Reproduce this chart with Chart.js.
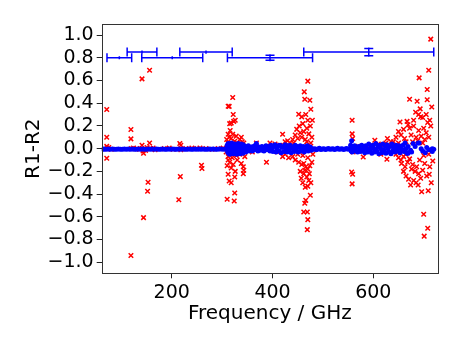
<!DOCTYPE html>
<html><head><meta charset="utf-8">
<script src="https://cdn.jsdelivr.net/npm/chart.js@4"></script>
<style>html,body{margin:0;padding:0;background:#fff}</style>
</head><body>
<canvas id="c" width="463" height="347" style="display:block;width:463px;height:347px"></canvas>
<script>
// ---- data ----
const xTicks = [200, 400, 600];
const yTicks = [-1.0, -0.8, -0.6, -0.4, -0.2, 0.0, 0.2, 0.4, 0.6, 0.8, 1.0];
const xRange = [61, 728.4];
const yRange = [-1.097, 1.097];

// red crosses: [frequency GHz, R1-R2]
const mismatchPoints = [
[71,0.345],[71,0.10],[71,0.02],[72,0.0],[71,-0.085],[75,0.01],[80,-0.005],
[119,0.168],[119,0.086],[120,0.0],[119,-0.94],[124,0.005],
[141,0.614],[156,0.69],[141,0.03],[144,-0.04],[143,-0.02],[156,0.05],[153,-0.296],[152,-0.375],[144,-0.607],[148,-0.015],[151,0.01],[158,0.0],[163,0.005],[167,-0.01],[136,-0.005],[131,0.0],
[185,0.0],[195,0.005],[203,-0.005],[214,-0.45],[216,0.045],[218,0.03],[218,-0.01],[217,-0.246],[228,0.0],[240,0.005],[250,0.0],[259,-0.146],[260,-0.175],[256,0.005],[268,0.0],[280,-0.005],[292,0.0],[302,0.005],
[321,0.45],[312,0.373],[314,0.372],[322,0.30],[315,0.22],[318,0.225],[326,0.25],[323,0.24],[312,0.127],[321,0.127],[316,0.16],[328,0.11],[335,0.08],[340,0.06],[318,0.09],[325,0.065],[330,0.05],[312,0.05],[309,0.08],[338,0.1],[314,0.1],[333,0.04],[343,0.05],
[312,-0.225],[325,-0.25],[314,-0.285],[318,-0.30],[325,-0.39],[310,-0.446],[324,-0.46],[342,-0.16],[343,-0.19],[342,-0.22],[312,-0.1],[315,-0.12],[320,-0.08],[328,-0.06],[335,-0.05],[310,-0.15],[318,-0.17],[322,-0.14],[312,-0.07],[338,-0.13],[330,-0.1],[326,-0.2],[316,-0.05],[308,-0.03],[345,-0.07],
[368,0.05],[360,-0.03],[388,-0.12],[395,0.05],[405,0.04],[410,-0.03],
[470,0.594],[463,0.50],[464,0.435],[474,0.426],[476,0.347],[452,0.303],[466,0.30],[479,0.25],[458,0.28],[470,0.25],[448,0.17],[453,0.2],[460,0.22],[468,0.18],[475,0.2],[445,0.12],[455,0.14],[462,0.15],[472,0.13],[478,0.1],[440,0.08],[450,0.09],[458,0.1],[465,0.08],[430,0.07],[420,0.127],[425,0.06],[435,0.05],[442,0.05],[468,0.06],[476,0.05],[415,0.03],
[420,-0.07],[425,-0.05],[432,-0.08],[440,-0.07],[445,-0.1],[452,-0.12],[458,-0.14],[462,-0.13],[466,-0.16],[470,-0.18],[474,-0.15],[478,-0.12],[455,-0.2],[462,-0.22],[468,-0.25],[472,-0.28],[476,-0.3],[460,-0.3],[465,-0.34],[470,-0.33],[475,-0.41],[466,-0.455],[464,-0.48],[462,-0.557],[469,-0.557],[470,-0.625],[469,-0.713],[450,-0.05],[460,-0.06],[470,-0.08],[480,-0.05],[457,-0.26],[464,-0.19],[473,-0.22],
[558,0.25],[558,0.13],[559,0.09],[557,-0.205],[559,-0.225],[558,-0.31],[558,0.0],[560,-0.03],
[580,-0.073],[603,0.074],[628,0.089],[627,-0.094],[600,0.02],[615,-0.05],[625,0.05],[635,0.06],[620,0.03],[610,0.04],[590,0.01],[570,0.02],
[714,0.964],[710,0.69],[691,0.623],[707,0.52],[672,0.435],[687,0.417],[707,0.43],[716,0.367],[693,0.35],[684,0.32],[698,0.274],[653,0.235],[667,0.24],[669,0.21],[714,0.2],[650,0.15],[660,0.17],[672,0.18],[680,0.2],[690,0.16],[700,0.18],[708,0.23],[712,0.25],[645,0.1],[655,0.12],[662,0.09],[675,0.12],[685,0.1],[695,0.11],[705,0.14],[710,0.1],[640,0.06],[650,0.05],[665,0.06],[678,0.06],[688,0.07],[698,0.05],[702,0.08],[694,0.28],[680,0.25],[690,0.3],[705,0.3],
[718,-0.108],[663,-0.16],[665,-0.24],[674,-0.32],[689,-0.32],[696,-0.38],[709,-0.37],[711,-0.226],[700,-0.578],[708,-0.70],[701,-0.77],[645,-0.05],[650,-0.08],[655,-0.1],[660,-0.07],[668,-0.12],[672,-0.09],[678,-0.14],[683,-0.2],[686,-0.16],[690,-0.22],[694,-0.26],[698,-0.19],[702,-0.13],[706,-0.24],[712,-0.16],[715,-0.3],[660,-0.2],[670,-0.27],[680,-0.28],[685,-0.3],[676,-0.18],[692,-0.1],[700,-0.06],[656,-0.13],[664,-0.05],[640,-0.03],[710,-0.05]
];

// blue dots: [frequency GHz, R1-R2]
const matchPoints = [
[64,-0.005],[66,-0.004],[70,-0.006],[74,-0.003],[78,-0.005],[82,-0.004],[86,-0.006],[90,-0.005],[94,-0.003],[98,-0.005],[102,-0.006],[106,-0.004],[110,-0.005],[114,-0.003],[118,-0.006],[122,-0.004],[126,-0.005],[130,-0.006],[134,-0.004],[138,-0.005],[142,-0.003],[146,-0.006],[150,-0.005],[154,-0.004],[158,-0.005],[162,-0.003],[166,-0.006],[170,-0.004],[174,-0.005],[178,-0.005],[182,-0.004],[186,-0.006],[190,-0.005],[194,-0.003],[198,-0.005],[202,-0.004],[206,-0.006],[210,-0.005],[214,-0.004],[218,-0.005],[222,-0.003],[226,-0.006],[230,-0.005],[234,-0.004],[238,-0.005],[242,-0.006],[246,-0.004],[250,-0.005],[254,-0.003],[258,-0.005],[262,-0.004],[266,-0.006],[270,-0.005],[274,-0.004],[278,-0.005],[282,-0.003],[286,-0.006],[290,-0.005],[294,-0.004],[298,-0.003],[302,-0.006],[306,-0.004],
[308,0.0],[310,0.03],[311,-0.03],[312,0.045],[313,-0.04],[314,0.01],[315,-0.05],[316,0.04],[317,0.0],[318,-0.035],[319,0.05],[320,-0.02],[321,0.03],[322,-0.045],[323,0.02],[324,-0.01],[325,0.04],[326,-0.04],[327,0.0],[328,0.035],[329,-0.05],[330,0.02],[331,-0.025],[332,0.045],[333,-0.035],[334,0.01],[335,0.03],[336,-0.045],[337,0.0],[338,0.04],[339,-0.02],[340,0.02],[341,-0.04],[342,0.035],[343,-0.01],[344,0.0],[346,0.02],[347,-0.03],[349,0.015],[350,-0.015],[352,0.025],[354,-0.02],[356,0.0],[358,0.015],[360,-0.02],[362,0.02],[364,-0.01],[366,0.03],[368,0.045],[369,0.0],[371,-0.02],[373,0.015],[375,0.0],[377,-0.015],[379,0.02],[381,0.0],[383,-0.02],[385,0.01],[387,0.025],[389,-0.01],[391,0.0],[393,0.02],[395,-0.02],[397,0.03],[399,0.0],[401,-0.025],[403,0.02],[405,0.035],[407,-0.03],[409,0.0],[411,0.025],[413,-0.02],[415,0.03],[417,-0.035],[419,0.01],[421,0.02],[423,-0.025],[425,0.035],[427,0.0],[429,-0.03],[431,0.025],[433,-0.01],[435,0.03],[437,-0.035],[439,0.015],[441,0.0],[443,-0.025],[445,0.03],[447,-0.015],[449,0.02],[451,-0.03],[453,0.01],[455,0.025],[457,-0.02],[459,0.0],[461,0.02],[463,-0.03],[465,0.015],[467,-0.01],[469,0.025],[471,-0.02],[473,0.0],[475,0.015],[477,-0.015],[479,0.0],
[481,-0.005],[484,0.0],[487,-0.01],[490,-0.003],[493,0.003],[496,-0.008],[499,-0.002],[502,0.0],[505,-0.007],[508,-0.003],[511,0.002],[514,-0.006],[517,-0.004],[520,0.0],[523,-0.008],[526,-0.002],[529,0.003],[532,-0.006],[535,-0.003],[538,0.0],[541,-0.007],[544,-0.002],[547,0.002],[550,-0.005],
[553,0.0],[555,0.03],[556,-0.02],[557,0.07],[558,-0.03],[559,0.02],[561,-0.01],[563,0.025],[565,-0.02],[567,0.01],[569,-0.03],[571,0.02],[573,0.0],[575,-0.025],[577,0.03],[579,-0.01],[581,0.015],[583,-0.035],[585,0.025],[587,0.0],[589,-0.03],[591,0.04],[593,-0.015],[595,0.02],[597,-0.04],[599,0.03],[601,0.0],[603,-0.03],[605,0.045],[607,-0.02],[609,0.015],[611,-0.045],[613,0.03],[615,0.0],[617,-0.035],[619,0.04],[621,-0.01],[623,0.025],[625,-0.04],[627,0.035],[629,0.0],[631,-0.03],[633,0.02],[635,-0.045],[637,0.04],[639,-0.015],[641,0.01],[643,-0.03],[645,0.03],[647,-0.02],[649,0.0],[651,0.025],[653,-0.035],[655,0.015],[657,-0.01],[659,0.03],[661,-0.025],[663,0.05],[665,0.0],[667,-0.04],[669,0.02],
[669,-0.04],[674,-0.015],[676,-0.03],[679,0.045],[683,0.02],[689,0.05],[691,0.05],[695,0.0],[698,-0.02],[703,-0.035],[706,0.01],[710,-0.01],[717,0.0],[717,-0.025],[720,-0.005]
];

// binned error bars at the top
const binCenters    = [96, 141, 201, 268, 395, 591];
const binHalfWidths = [24.5, 29.5, 60.5, 52, 84.5, 129];
const binLevels     = [0.80, 0.85, 0.80, 0.85, 0.80, 0.85];
const binErrors     = [0.004, 0.004, 0.004, 0.005, 0.023, 0.032];

// ---- chart ----
const toXY = a => a.map(p => ({x: p[0], y: p[1]}));
const fmt = v => { const s = Number(v).toFixed(1); return s.startsWith('-') ? '\u2212' + s.slice(1) : s; };

const frameErr = {
  id: 'frameErr',
  afterDatasetsDraw(chart) {
    const {ctx, chartArea: a, scales: {x, y}} = chart;
    const cap = 4.5;
    ctx.save();
    ctx.beginPath(); ctx.rect(a.left, a.top, a.right - a.left, a.bottom - a.top); ctx.clip();
    ctx.strokeStyle = '#0000ff'; ctx.lineWidth = 1.5; ctx.lineCap = 'butt';
    for (let i = 0; i < binCenters.length; i++) {
      const yc = y.getPixelForValue(binLevels[i]);
      const xl = x.getPixelForValue(binCenters[i] - binHalfWidths[i]);
      const xr = x.getPixelForValue(binCenters[i] + binHalfWidths[i]);
      const xc = x.getPixelForValue(binCenters[i]);
      const yt = y.getPixelForValue(binLevels[i] + binErrors[i]);
      const yb = y.getPixelForValue(binLevels[i] - binErrors[i]);
      ctx.beginPath();
      ctx.moveTo(xl, yc); ctx.lineTo(xr, yc);
      ctx.moveTo(xl, yc - cap); ctx.lineTo(xl, yc + cap);
      ctx.moveTo(xr, yc - cap); ctx.lineTo(xr, yc + cap);
      ctx.moveTo(xc, yt - 1); ctx.lineTo(xc, yb + 1);
      if (binErrors[i] > 0.01) {
        ctx.moveTo(xc - cap, yt); ctx.lineTo(xc + cap, yt);
        ctx.moveTo(xc - cap, yb); ctx.lineTo(xc + cap, yb);
      }
      ctx.stroke();
    }
    ctx.restore();
    ctx.save();
    ctx.strokeStyle = '#333'; ctx.lineWidth = 1;
    ctx.strokeRect(Math.round(a.left) + 0.5, Math.round(a.top) + 0.5,
                   Math.round(a.right) - Math.round(a.left), Math.round(a.bottom) - Math.round(a.top));
    ctx.restore();
  }
};

new Chart(document.getElementById('c'), {
  type: 'scatter',
  data: {
    datasets: [
      { label: 'match', data: toXY(matchPoints), order: 0,
        pointStyle: 'circle', pointRadius: 2.5, pointBorderWidth: 0,
        backgroundColor: '#0000ff', borderColor: '#0000ff' },
      { label: 'mismatch', data: toXY(mismatchPoints), order: 1,
        pointStyle: 'crossRot', pointRadius: 3.2, pointBorderWidth: 1.5,
        backgroundColor: '#ff0000', borderColor: '#ff0000' }
    ]
  },
  options: {
    responsive: false, animation: false, devicePixelRatio: 1,
    layout: { padding: { top: 24, right: 25, left: 0, bottom: 0 } },
    plugins: { legend: { display: false }, tooltip: { enabled: false } },
    scales: {
      x: {
        type: 'linear', min: xRange[0], max: xRange[1],
        afterBuildTicks: s => { s.ticks = xTicks.map(v => ({value: v})); },
        afterFit: s => { s.height = 73.7; },
        grid: { drawOnChartArea: false, drawTicks: true, tickLength: 5, color: '#222' },
        border: { display: false },
        ticks: { color: '#000', padding: 3, autoSkip: false, maxRotation: 0,
                 font: { family: 'DejaVu Sans', size: 19 }, callback: v => String(v) },
        title: { display: true, text: 'Frequency / GHz', color: '#000',
                 font: { family: 'DejaVu Sans', size: 20 }, padding: { top: 0, bottom: 21 } }
      },
      y: {
        type: 'linear', min: yRange[0], max: yRange[1],
        afterBuildTicks: s => { s.ticks = yTicks.map(v => ({value: v})); },
        afterFit: s => { s.width = 101.7; },
        grid: { drawOnChartArea: false, drawTicks: true, tickLength: 5, color: '#222' },
        border: { display: false },
        ticks: { color: '#000', padding: 3, autoSkip: false,
                 font: { family: 'DejaVu Sans', size: 19 }, callback: v => fmt(v) },
        title: { display: true, text: 'R1-R2', color: '#000',
                 font: { family: 'DejaVu Sans', size: 20 }, padding: { top: 22, bottom: 0 } }
      }
    }
  },
  plugins: [frameErr]
});
</script>
</body></html>
